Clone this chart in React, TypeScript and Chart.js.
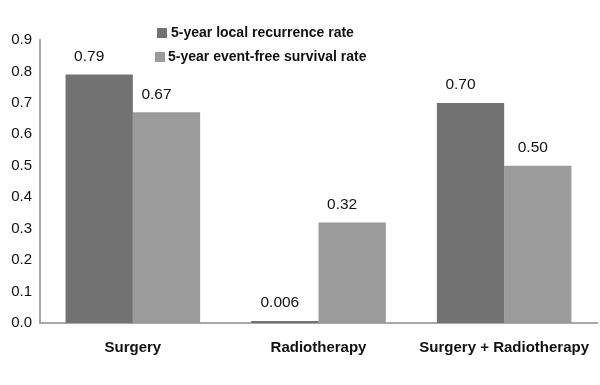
import React, { useEffect, useRef } from "react";
import { Chart, registerables } from "chart.js";

Chart.register(...registerables);

const categories = ["Surgery", "Radiotherapy", "Surgery + Radiotherapy"];
const seriesNames = ["5-year local recurrence rate", "5-year event-free survival rate"];
const localRecurrence = [0.79, 0.006, 0.70];
const eventFreeSurvival = [0.67, 0.32, 0.50];
const localLabels = ["0.79", "0.006", "0.70"];
const eventFreeLabels = ["0.67", "0.32", "0.50"];
const yTicks = [0, 0.1, 0.2, 0.3, 0.4, 0.5, 0.6, 0.7, 0.8, 0.9];

const FONT = "'Liberation Sans', Arial, sans-serif";
const DARK = "#727272";
const LIGHT = "#9b9b9b";
// horizontal nudges of the value labels (style only), per dataset / bar
const LABEL_NUDGE = [
  [-10, -5, -10],
  [-10, -10, -5],
];

const valueLabels = {
  id: "valueLabels",
  afterDatasetsDraw(chart: any) {
    const ctx = chart.ctx;
    const labelSets = [localLabels, eventFreeLabels];
    ctx.save();
    ctx.font = `15.5px ${FONT}`;
    ctx.fillStyle = "#111";
    ctx.textAlign = "center";
    ctx.textBaseline = "middle";
    chart.data.datasets.forEach((_: any, di: number) => {
      const meta = chart.getDatasetMeta(di);
      meta.data.forEach((bar: any, i: number) => {
        ctx.fillText(labelSets[di][i], bar.x + LABEL_NUDGE[di][i], bar.y - 18);
      });
    });
    ctx.restore();
  },
};

const customLegend = {
  id: "customLegend",
  afterDraw(chart: any) {
    const ctx = chart.ctx;
    ctx.save();
    const colors = [DARK, LIGHT];
    const rows = [
      { sx: 157, sy: 28, tx: 171, ty: 33 },
      { sx: 155, sy: 52, tx: 168, ty: 57 },
    ];
    ctx.font = `bold 14px ${FONT}`;
    ctx.textAlign = "left";
    ctx.textBaseline = "middle";
    seriesNames.forEach((name, i) => {
      const r = rows[i];
      ctx.fillStyle = colors[i];
      ctx.fillRect(r.sx, r.sy, 10, 10);
      ctx.fillStyle = "#111";
      ctx.fillText(name, r.tx, r.ty);
    });
    ctx.restore();
  },
};

export default function App() {
  const ref = useRef<HTMLCanvasElement | null>(null);
  useEffect(() => {
    if (!ref.current) return;
    const chart = new Chart(ref.current, {
      type: "bar",
      data: {
        labels: categories,
        datasets: [
          {
            label: seriesNames[0],
            data: localRecurrence,
            backgroundColor: DARK,
            categoryPercentage: 0.725,
            barPercentage: 1,
          },
          {
            label: seriesNames[1],
            data: eventFreeSurvival,
            backgroundColor: LIGHT,
            categoryPercentage: 0.725,
            barPercentage: 1,
          },
        ],
      },
      options: {
        animation: false,
        responsive: false,
        maintainAspectRatio: false,
        layout: { padding: { top: 40, right: 3, left: 0, bottom: 0 } },
        plugins: { legend: { display: false }, tooltip: { enabled: false } },
        scales: {
          x: {
            grid: { display: false },
            border: { display: true, color: "#a8a8a8", width: 2 },
            ticks: {
              color: "#111",
              font: { family: FONT, size: 15, weight: "bold" },
              padding: 8,
              maxRotation: 0,
            },
            afterFit(scale: any) {
              scale.height = 62;
            },
          },
          y: {
            min: 0,
            max: 0.9,
            grid: { display: false },
            border: { display: true, color: "#a8a8a8", width: 2 },
            afterBuildTicks(scale: any) {
              scale.ticks = yTicks.map((v) => ({ value: v }));
            },
            ticks: {
              color: "#111",
              font: { family: FONT, size: 15 },
              padding: 0,
              callback: (v: any) => Number(v).toFixed(1),
            },
            afterFit(scale: any) {
              scale.width = 40;
            },
          },
        },
      },
      plugins: [valueLabels, customLegend],
    });
    return () => chart.destroy();
  }, []);
  return (
    <div style={{ position: "fixed", left: 0, top: 0, width: 600, height: 385, background: "#fff" }}>
      <canvas ref={ref} width={600} height={385} />
    </div>
  );
}
